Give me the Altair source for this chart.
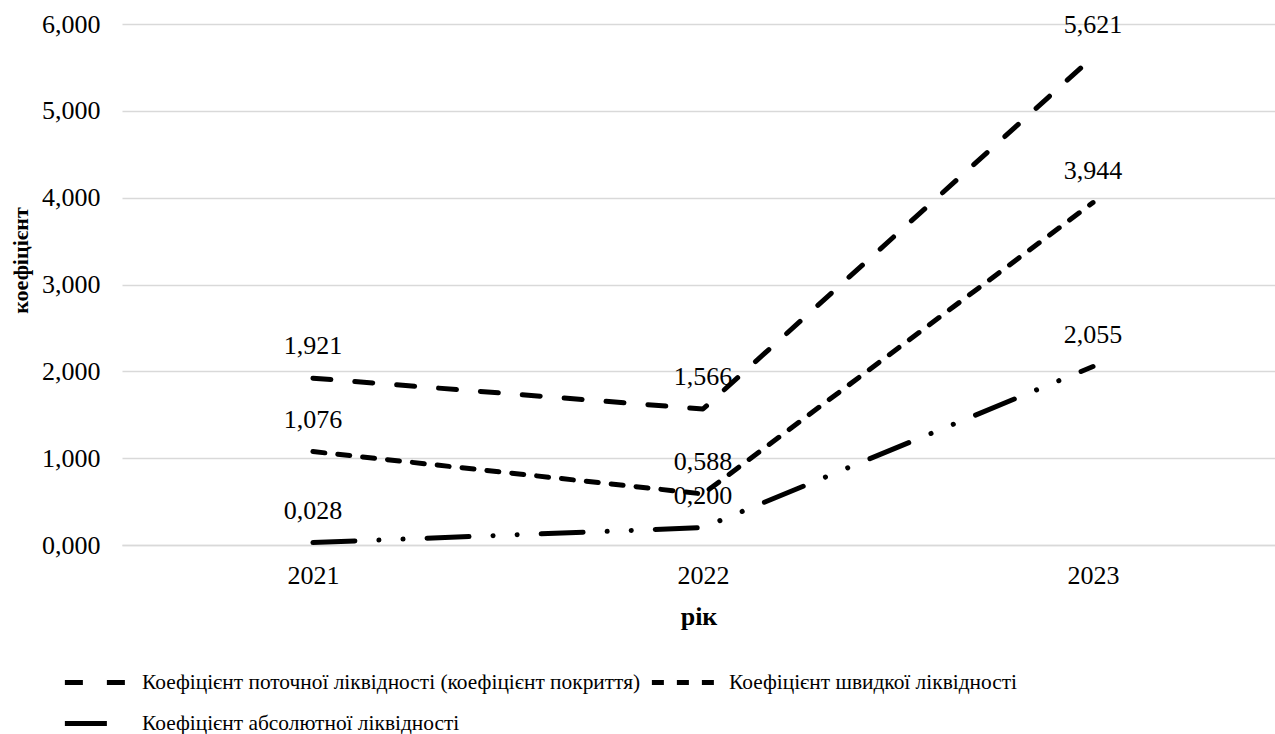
import altair as alt
import pandas as pd

# Liquidity ratios by year
years = ["2021", "2022", "2023"]
series_names = [
    "Коефіцієнт поточної ліквідності (коефіцієнт покриття)",
    "Коефіцієнт швидкої ліквідності",
    "Коефіцієнт абсолютної ліквідності",
]
current_ratio = [1.921, 1.566, 5.621]
quick_ratio = [1.076, 0.588, 3.944]
absolute_ratio = [0.028, 0.200, 2.055]

# dash patterns: long dash, short dash, long dash-dot-dot
dash_styles = [[18, 24], [12, 13], [42, 24, 0.1, 24, 0.1, 24]]

FONT = "Liberation Serif"

rows = []
for name, vals in zip(series_names, [current_ratio, quick_ratio, absolute_ratio]):
    for yr, v in zip(years, vals):
        rows.append({"year": yr, "series": name, "value": v})
df = pd.DataFrame(rows)

base = alt.Chart(df).transform_calculate(
    label="replace(format(datum.value, '.3f'), '.', ',')"
).encode(
    x=alt.X(
        "year:N",
        sort=years,
        scale=alt.Scale(type="point", padding=0.478, align=0.512),
        axis=alt.Axis(
            title="рік",
            labelAngle=0,
            labelFont=FONT,
            labelFontSize=26,
            labelColor="black",
            labelPadding=17,
            ticks=False,
            domainColor="#d9d9d9",
            domainWidth=1.5,
            titleFont=FONT,
            titleFontSize=26,
            titleFontWeight="bold",
            titleColor="black",
            titlePadding=15,
        ),
    ),
    y=alt.Y(
        "value:Q",
        scale=alt.Scale(domain=[0, 6]),
        axis=alt.Axis(
            values=[0, 1, 2, 3, 4, 5, 6],
            labelExpr="replace(format(datum.value, '.3f'), '.', ',')",
            labelFont=FONT,
            labelFontSize=26,
            labelColor="black",
            labelPadding=22,
            ticks=False,
            domain=False,
            grid=True,
            gridColor="#d9d9d9",
            gridWidth=1.5,
            title="коефіцієнт",
            titleFont=FONT,
            titleFontSize=22,
            titleFontWeight="bold",
            titleColor="black",
            titleAngle=-90,
            titleAlign="center",
            titleBaseline="middle",
            titleX=-102,
            titleY=236,
        ),
    ),
)

lines = base.mark_line(
    color="black", strokeWidth=5, strokeCap="round", strokeJoin="round"
).encode(
    strokeDash=alt.StrokeDash(
        "series:N",
        sort=series_names,
        scale=alt.Scale(domain=series_names, range=dash_styles),
        legend=alt.Legend(
            title=None,
            orient="none",
            direction="horizontal",
            legendX=-44,
            legendY=640,
            columns=2,
            # wide, flat line swatch
            symbolType="M-2,0H2",
            symbolSize=1000,
            symbolStrokeWidth=5,
            symbolStrokeColor="black",
            labelFont=FONT,
            labelFontSize=21.4,
            labelColor="black",
            labelLimit=0,
            labelOffset=27,
            columnPadding=0,
            rowPadding=12,
        ),
    )
)

labels = base.mark_text(
    dy=-32, fontSize=26, font=FONT, color="black"
).encode(text="label:N")

chart = (
    alt.layer(lines, labels)
    .properties(
        width=1153,
        height=521,
        padding={"left": 122, "top": 24, "right": 0, "bottom": 189},
        autosize=alt.AutoSizeParams(type="none"),
        background="white",
    )
    .configure_view(stroke=None)
)

chart.save("out.html", embed_options={"renderer": "svg", "actions": False})
